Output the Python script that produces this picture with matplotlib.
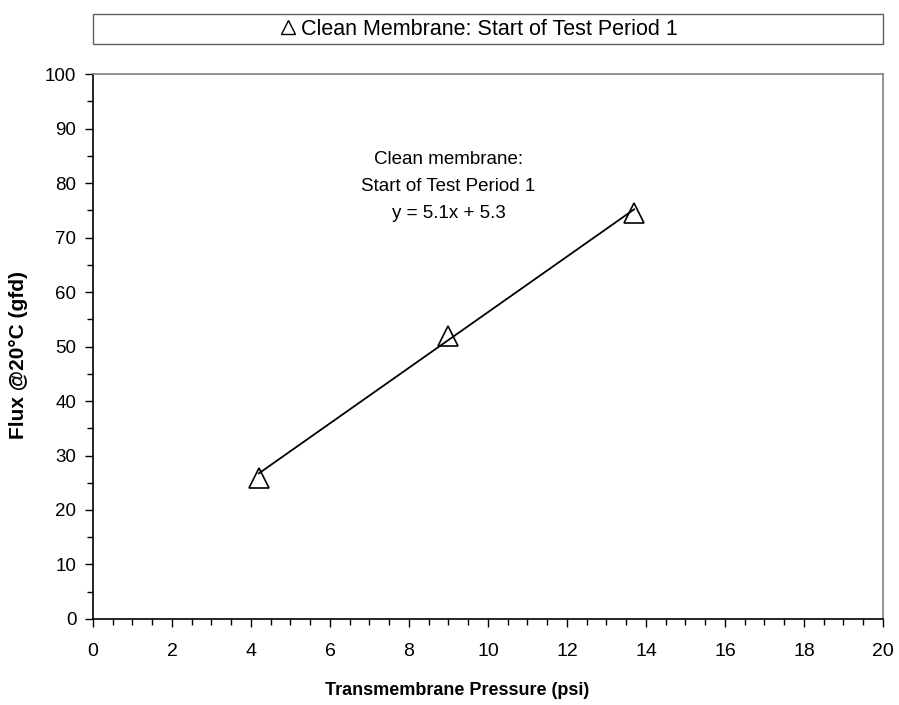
import matplotlib.pyplot as plt
from matplotlib.patches import Rectangle
from matplotlib.ticker import MultipleLocator
import numpy as np

plt.rcParams['font.family'] = ['Liberation Sans', 'DejaVu Sans']

# data
tmp_psi = [4.2, 9.0, 13.7]
flux_gfd = [25.8, 52.0, 74.5]
slope, intercept = 5.1, 5.3
series_label = 'Clean Membrane: Start of Test Period 1'
note = 'Clean membrane:\nStart of Test Period 1\ny = 5.1x + 5.3'

fig = plt.figure(figsize=(8.99, 7.05), dpi=100)
ax = fig.add_axes([0.1034, 0.122, 0.8788, 0.773])

# trendline over the measured range
xs = np.array([min(tmp_psi), max(tmp_psi)])
ax.plot(xs, slope * xs + intercept, color='black', lw=1.3, zorder=2)
ax.plot(tmp_psi, flux_gfd, linestyle='none', marker='^', ms=14,
        mfc='none', mec='black', mew=1.2, zorder=3)

ax.text(9.0, 79.4, note, ha='center', va='center', fontsize=13.5,
        linespacing=1.75)

ax.set_xlim(0, 20)
ax.set_ylim(0, 100)
ax.xaxis.set_major_locator(MultipleLocator(2))
ax.xaxis.set_minor_locator(MultipleLocator(0.5))
ax.yaxis.set_major_locator(MultipleLocator(10))
ax.yaxis.set_minor_locator(MultipleLocator(5))
ax.tick_params(which='both', direction='out', width=1)
ax.tick_params(which='major', length=6)
ax.tick_params(which='minor', length=4)
ax.tick_params(axis='x', labelsize=14, pad=11)
ax.tick_params(axis='y', labelsize=13.5, pad=6)

for s in ['top', 'right']:
    ax.spines[s].set_color('#808080')
for s in ['left', 'bottom']:
    ax.spines[s].set_color('black')
for s in ax.spines.values():
    s.set_linewidth(1.2)

ax.set_xlabel('Transmembrane Pressure (psi)', fontsize=13,
              fontweight='bold')
ax.xaxis.set_label_coords(0.461, -0.115)
ax.set_ylabel('Flux @20°C (gfd)', fontsize=15, fontweight='bold')
ax.yaxis.set_label_coords(-0.082, 0.485)

# legend box above the plot
ax.add_patch(Rectangle((0, 1.055), 1.0, 0.055, transform=ax.transAxes,
                       fill=False, edgecolor='#606060', lw=1.0, clip_on=False))
handle = plt.Line2D([], [], linestyle='none', marker='^', ms=10,
                    mfc='none', mec='black', mew=1.0)
ax.legend([handle], [series_label], loc='center',
          bbox_to_anchor=(0.487, 1.0825), frameon=False, fontsize=15.5,
          handletextpad=0.1, handlelength=1.0, borderpad=0)

fig.savefig('out.png', dpi=100)
